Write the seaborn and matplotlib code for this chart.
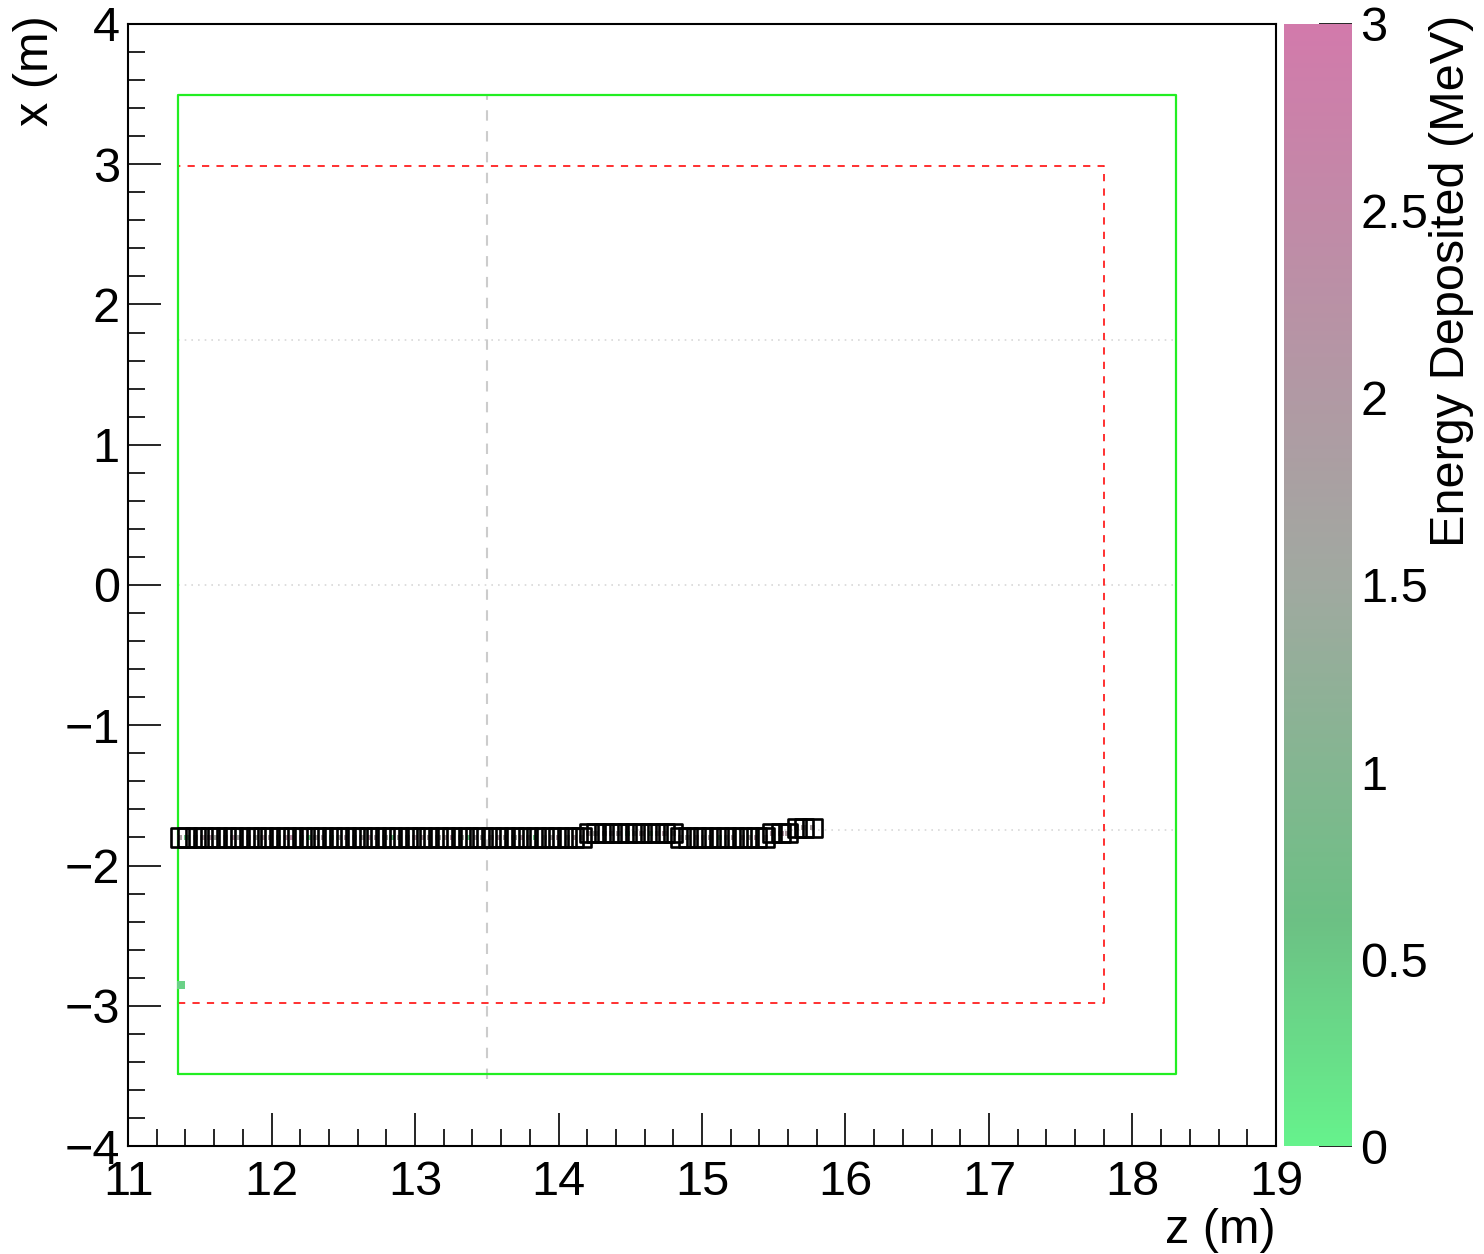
import numpy as np
import pandas as pd
import matplotlib
matplotlib.use("Agg")
import matplotlib.pyplot as plt
import seaborn as sns
from matplotlib.colors import LinearSegmentedColormap, Normalize
from matplotlib.cm import ScalarMappable

# hit positions along the track (z, x in metres) and deposited energy (MeV)
hit_z = [
    11.36, 11.41, 11.47, 11.52, 11.57, 11.62, 11.68, 11.73, 11.78, 11.84,
    11.89, 11.94, 11.99, 12.05, 12.10, 12.15, 12.21, 12.26, 12.31, 12.36,
    12.42, 12.47, 12.52, 12.58, 12.63, 12.68, 12.73, 12.79, 12.84, 12.89,
    12.95, 13.00, 13.05, 13.10, 13.16, 13.21, 13.26, 13.32, 13.37, 13.42,
    13.47, 13.53, 13.58, 13.63, 13.69, 13.74, 13.79, 13.84, 13.90, 13.95,
    14.00, 14.06, 14.11, 14.16,
    14.21, 14.26, 14.32, 14.37, 14.42, 14.48, 14.53, 14.58, 14.64, 14.69,
    14.74, 14.80,
    14.85, 14.90, 14.96, 15.01, 15.06, 15.12, 15.17, 15.22, 15.28, 15.33,
    15.38, 15.44,
    15.49, 15.55, 15.60,
    15.66, 15.71, 15.77,
]
hit_x = [
    -1.80, -1.80, -1.80, -1.80, -1.80, -1.80, -1.80, -1.80, -1.80, -1.80,
    -1.80, -1.80, -1.80, -1.80, -1.80, -1.80, -1.80, -1.80, -1.80, -1.80,
    -1.80, -1.80, -1.80, -1.80, -1.80, -1.80, -1.80, -1.80, -1.80, -1.80,
    -1.80, -1.80, -1.80, -1.80, -1.80, -1.80, -1.80, -1.80, -1.80, -1.80,
    -1.80, -1.80, -1.80, -1.80, -1.80, -1.80, -1.80, -1.80, -1.80, -1.80,
    -1.80, -1.80, -1.80, -1.80,
    -1.77, -1.77, -1.77, -1.77, -1.77, -1.77, -1.77, -1.77, -1.77, -1.77,
    -1.77, -1.77,
    -1.80, -1.80, -1.80, -1.80, -1.80, -1.80, -1.80, -1.80, -1.80, -1.80,
    -1.80, -1.80,
    -1.77, -1.77, -1.77,
    -1.73, -1.73, -1.73,
]
hit_energy = [
    1.8, 0.5, 1.7, 1.9, 2.1, 1.6, 1.8, 2.2, 1.7, 1.9,
    1.6, 2.0, 1.8, 0.9, 2.1, 2.3, 1.7, 0.4, 1.8, 1.9,
    0.5, 1.7, 2.0, 1.6, 1.8, 2.2, 1.9, 1.7, 0.6, 1.8,
    1.6, 2.1, 2.0, 1.8, 1.7, 1.9, 2.2, 1.6, 0.5, 1.8,
    1.7, 1.9, 2.0, 1.8, 1.6, 2.1, 1.9, 0.5, 1.7, 1.8,
    2.0, 1.6, 1.9, 1.7,
    1.8, 1.7, 1.9, 2.0, 1.8, 0.4, 1.7, 1.9, 0.5, 1.8,
    2.0, 1.7,
    1.8, 1.7, 2.0, 1.9, 1.8, 0.4, 1.7, 1.9, 2.1, 1.8,
    2.2, 1.8,
    2.0, 2.1, 1.9,
    1.7, 1.8, 1.8,
]

# isolated low-energy hit
lone_z = [11.37]
lone_x = [-2.85]
lone_energy = [0.4]

# detector outlines
outer_z = [11.35, 18.30]
outer_x = [-3.49, 3.49]
fid_z = [11.35, 17.80]
fid_x = [-2.98, 2.99]
cathode_z = 13.5
plane_x = [1.75, 0.0, -1.75]

x_ticks = [11, 12, 13, 14, 15, 16, 17, 18, 19]
y_ticks = [-4, -3, -2, -1, 0, 1, 2, 3, 4]
cbar_ticks = [0, 0.5, 1, 1.5, 2, 2.5, 3]
cbar_labels = ["0", "0.5", "1", "1.5", "2", "2.5", "3"]

sns.set_theme(style="white")
plt.rcParams["font.family"] = ["Liberation Sans", "DejaVu Sans"]
plt.rcParams["text.color"] = "black"
plt.rcParams["xtick.color"] = "black"
plt.rcParams["ytick.color"] = "black"
plt.rcParams["axes.labelcolor"] = "black"

cmap = LinearSegmentedColormap.from_list(
    "edep", [(0.0, "#66f28c"), (0.2, "#6cc084"), (0.5, "#a0a9a0"),
             (1.0, "#d27aab")])
norm = Normalize(0, 3)

fig = plt.figure(figsize=(14.84, 12.54), dpi=100)
ax = fig.add_axes([0.0863, 0.0861, 0.7735, 0.8948])
cax = fig.add_axes([0.8652, 0.0861, 0.0458, 0.8948])

# guide lines
for xv in plane_x:
    ax.plot(outer_z, [xv, xv], color="#d8d8d8", lw=1.2, ls=(0, (1, 3)), zorder=1)
ax.plot([cathode_z, cathode_z], [-3.52, 3.5], color="#cccccc", lw=1.5,
        ls=(0, (5, 5)), zorder=1)
ax.plot([fid_z[0], fid_z[1], fid_z[1], fid_z[0], fid_z[0]],
        [fid_x[0], fid_x[0], fid_x[1], fid_x[1], fid_x[0]],
        color="#ff2020", lw=1.3, ls=(0, (4, 4)), zorder=2)
ax.plot([outer_z[0], outer_z[1], outer_z[1], outer_z[0], outer_z[0]],
        [outer_x[0], outer_x[0], outer_x[1], outer_x[1], outer_x[0]],
        color="#22ee22", lw=1.6, zorder=3)

hits = pd.DataFrame({"z": hit_z, "x": hit_x, "E": hit_energy})
sns.scatterplot(data=hits, x="z", y="x", hue="E", palette=cmap,
                hue_norm=(0, 3), marker="s", s=14, linewidth=0,
                legend=False, ax=ax, zorder=4)
lone = pd.DataFrame({"z": lone_z, "x": lone_x, "E": lone_energy})
sns.scatterplot(data=lone, x="z", y="x", hue="E", palette=cmap,
                hue_norm=(0, 3), marker="s", s=30, linewidth=0,
                legend=False, ax=ax, zorder=6)
ax.scatter(hit_z, hit_x, marker="s", s=170, facecolors="none",
           edgecolors="black", linewidths=1.9, zorder=5)

ax.set_xlim(11, 19)
ax.set_ylim(-4, 4)
ax.set_xticks(x_ticks)
ax.set_yticks(y_ticks)
ax.set_xticks(np.arange(11, 19.01, 0.2), minor=True)
ax.set_yticks(np.arange(-4, 4.01, 0.2), minor=True)
ax.tick_params(which="major", direction="in", length=24, width=1.2,
               labelsize=35, top=False, right=False, bottom=True, left=True)
ax.tick_params(which="minor", direction="in", length=12, width=1.2,
               top=False, right=False, bottom=True, left=True)
ax.tick_params(axis="x", pad=10)
ax.tick_params(axis="y", pad=6)
for sp in ax.spines.values():
    sp.set_color("black")
    sp.set_linewidth(1.5)
ax.set_xlabel("")
ax.set_ylabel("")
fig.text(0.8598, 0.019, "z (m)", ha="right", va="center", fontsize=35)
fig.text(0.024, 0.988, "x (m)", ha="center", va="top", rotation=90, fontsize=35)

sm = ScalarMappable(norm=norm, cmap=cmap)
cb = fig.colorbar(sm, cax=cax)
cb.outline.set_visible(False)
cb.set_ticks(cbar_ticks)
cb.set_ticklabels(cbar_labels)
cax.tick_params(direction="in", length=24, width=1.2, labelsize=35,
                right=True, left=False, pad=6)
cax.minorticks_off()
fig.text(0.978, 0.988, "Energy Deposited (MeV)", ha="center", va="top",
         rotation=90, fontsize=35)

fig.savefig("out.png", dpi=100, facecolor="white")
